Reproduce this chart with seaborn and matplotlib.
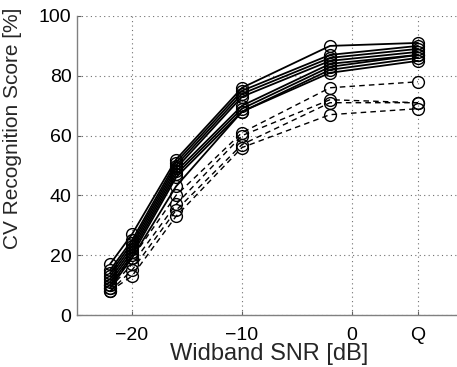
import numpy as np
import pandas as pd
import matplotlib
matplotlib.use("Agg")
import matplotlib.pyplot as plt
import seaborn as sns

# SNR conditions; the quiet condition "Q" is placed at x = 6
snr = [-22, -20, -16, -10, -2, 6]

# Normal-hearing listeners (solid lines)
solid_1 = [17, 27, 52, 76, 90, 91]
solid_2 = [15, 25, 51, 75, 87, 90]
solid_3 = [14, 24, 50, 74, 86, 89]
solid_4 = [13, 23, 49, 73, 85, 88]
solid_5 = [12, 22, 48, 70, 84, 87]
solid_6 = [11, 21, 47, 69, 83, 87]
solid_7 = [10, 20, 46, 68, 82, 86]
solid_8 = [9, 19, 43, 68, 81, 85]

# Remaining listeners (dashed lines)
dashed_1 = [10, 19, 40, 61, 76, 78]
dashed_2 = [9, 17, 37, 60, 72, 71]
dashed_3 = [8, 15, 35, 57, 71, 71]
dashed_4 = [8, 13, 33, 56, 67, 69]

xtick_pos = [-20, -10, 0, 6]
xtick_labels = ["\u221220", "\u221210", "0", "Q"]
ytick_pos = [0, 20, 40, 60, 80, 100]

series = {
    "s1": ("solid", solid_1), "s2": ("solid", solid_2), "s3": ("solid", solid_3),
    "s4": ("solid", solid_4), "s5": ("solid", solid_5), "s6": ("solid", solid_6),
    "s7": ("solid", solid_7), "s8": ("solid", solid_8),
    "d1": ("dashed", dashed_1), "d2": ("dashed", dashed_2),
    "d3": ("dashed", dashed_3), "d4": ("dashed", dashed_4),
}
rows = []
for name, (grp, vals) in series.items():
    for x, v in zip(snr, vals):
        rows.append({"listener": name, "group": grp, "snr": x, "score": v})
df = pd.DataFrame(rows)

sns.set_style("white")
plt.rcParams["font.family"] = ["Liberation Sans", "DejaVu Sans"]

fig = plt.figure(figsize=(4.57, 3.67), dpi=100)
ax = fig.add_axes([77 / 457, 52 / 367, 385 / 457, 299 / 367])

ax.grid(True, linestyle=(0, (1, 3)), color="#707070", linewidth=0.8)
ax.set_axisbelow(True)

sns.lineplot(
    data=df, x="snr", y="score", units="listener", estimator=None,
    style="group", style_order=["solid", "dashed"],
    markers={"solid": "o", "dashed": "o"},
    dashes={"solid": "", "dashed": (4, 3)},
    color="black", linewidth=1.3, markersize=8.5,
    legend=False, ax=ax, sort=False,
)
for line in ax.lines:
    line.set_markerfacecolor("none")
    line.set_markeredgecolor("black")
    line.set_markeredgewidth(1.0)
    if line.get_linestyle() != "-":
        line.set_linewidth(1.0)

ax.set_xlim(-25, 10)
ax.set_ylim(0, 100)
ax.set_xticks(xtick_pos)
ax.set_xticklabels(xtick_labels)
ax.set_yticks(ytick_pos)
ax.tick_params(axis="both", direction="in", length=3, labelsize=14,
               color="#606060", labelcolor="black")
ax.tick_params(axis="x", bottom=True, pad=9)
ax.tick_params(axis="y", left=True, pad=4)

for side in ["top", "right"]:
    ax.spines[side].set_visible(False)
for side in ["left", "bottom"]:
    ax.spines[side].set_color("#808080")
    ax.spines[side].set_linewidth(1.0)

ax.set_xlabel("Widband SNR [dB]", fontsize=17)
ax.set_ylabel("CV Recognition Score [%]", fontsize=15)
ax.xaxis.set_label_coords(0.5, -0.094)
ax.yaxis.set_label_coords(-0.143, 0.625)

fig.savefig("out.png", dpi=100)
